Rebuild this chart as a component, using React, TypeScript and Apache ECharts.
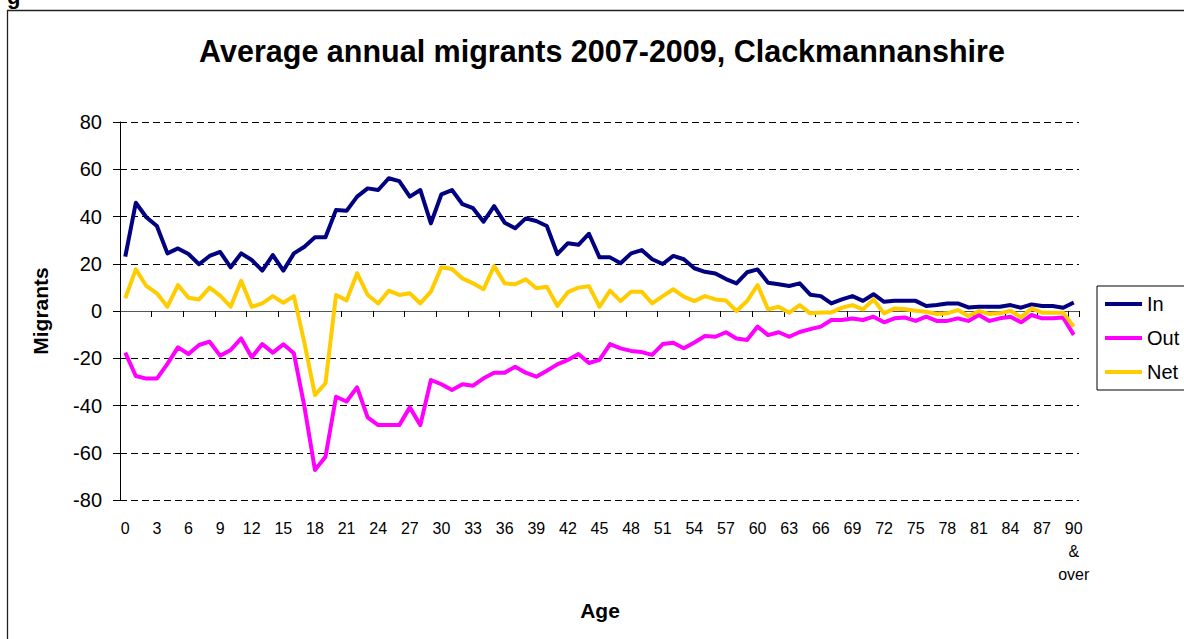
import React, { useEffect, useRef } from "react";
import * as echarts from "echarts";

const ages: string[] = [
  "0","1","2","3","4","5","6","7","8","9",
  "10","11","12","13","14","15","16","17","18","19",
  "20","21","22","23","24","25","26","27","28","29",
  "30","31","32","33","34","35","36","37","38","39",
  "40","41","42","43","44","45","46","47","48","49",
  "50","51","52","53","54","55","56","57","58","59",
  "60","61","62","63","64","65","66","67","68","69",
  "70","71","72","73","74","75","76","77","78","79",
  "80","81","82","83","84","85","86","87","88","89",
  "90 & over",
];

const inData: number[] = [
  23.0, 45.8, 39.7, 36.0, 24.4, 26.5, 24.1, 19.8, 23.3, 25.0,
  18.5, 24.4, 21.6, 17.1, 23.7, 17.1, 24.4, 27.2, 31.2, 31.2,
  42.8, 42.4, 48.4, 51.9, 51.2, 56.2, 55.0, 48.4, 51.2, 37.1,
  49.4, 51.2, 45.2, 43.5, 37.8, 44.4, 37.4, 35.0, 39.2, 38.1,
  36.0, 24.1, 28.7, 28.0, 32.7, 22.7, 22.7, 20.2, 24.4, 25.8,
  21.9, 19.9, 23.3, 21.9, 18.1, 16.6, 15.9, 13.5, 11.7, 16.4,
  17.6, 12.0, 11.3, 10.6, 11.7, 6.9, 6.3, 3.2, 4.9, 6.3,
  4.3, 7.1, 3.9, 4.3, 4.3, 4.3, 2.1, 2.5, 3.2, 3.2,
  1.5, 1.8, 1.8, 1.8, 2.5, 1.4, 2.8, 2.1, 2.1, 1.4,
  3.6,
];

const outData: number[] = [
  -17.6, -27.5, -28.6, -28.6, -22.4, -15.4, -18.2, -14.4, -13.0, -18.9,
  -16.5, -11.6, -19.6, -14.0, -17.6, -14.1, -17.9, -40.5, -67.3, -61.7,
  -36.3, -38.3, -32.3, -45.0, -48.3, -48.3, -48.3, -40.8, -48.3, -29.2,
  -31.0, -33.4, -31.0, -31.6, -28.5, -26.1, -26.1, -23.6, -26.1, -27.8,
  -25.3, -22.6, -20.7, -18.2, -22.0, -20.7, -14.0, -15.8, -16.9, -17.4,
  -18.6, -14.0, -13.4, -15.8, -13.3, -10.6, -10.9, -9.0, -11.6, -12.3,
  -6.6, -10.2, -9.0, -10.9, -8.9, -7.7, -6.6, -3.8, -3.8, -3.2,
  -3.8, -2.4, -4.8, -3.1, -2.8, -4.2, -2.4, -4.2, -4.2, -3.1,
  -4.2, -1.7, -4.2, -3.1, -2.4, -4.8, -1.7, -3.1, -3.1, -2.8,
  -10.1,
];

const netData: number[] = [
  5.4, 17.6, 10.6, 7.5, 1.8, 11.0, 5.6, 4.9, 9.9, 6.5,
  1.8, 12.8, 1.8, 3.2, 6.3, 3.5, 6.3, -13.5, -35.6, -30.6,
  6.8, 4.5, 16.0, 6.8, 3.2, 8.6, 6.8, 7.5, 3.2, 8.2,
  18.5, 17.8, 13.8, 11.7, 9.2, 19.0, 11.7, 11.3, 13.4, 9.6,
  10.3, 2.1, 8.0, 9.9, 10.5, 1.8, 8.6, 4.2, 8.2, 8.2,
  3.2, 6.3, 9.2, 6.1, 4.2, 6.3, 4.9, 4.4, 0.0, 4.2,
  11.0, 0.7, 1.8, -0.7, 2.5, -1.0, -0.6, -0.6, 1.4, 2.5,
  0.7, 4.9, -1.0, 1.1, 0.7, 0.1, -0.3, -1.3, -1.0, 0.4,
  -2.1, 0.0, -1.3, -1.0, 0.1, -2.7, 1.1, -0.7, -0.7, -0.7,
  -6.6,
];

const seriesNames = ["In", "Out", "Net"];
const seriesColors = ["#000080", "#FF00FF", "#FFCC00"];

const FONT = '"Liberation Sans", Arial, sans-serif';

export default function App() {
  const ref = useRef<HTMLDivElement>(null);

  useEffect(() => {
    if (!ref.current) return;
    const chart = echarts.init(ref.current, null, { renderer: "svg" });
    const datasets = [inData, outData, netData];
    chart.setOption({
      animation: false,
      backgroundColor: "#ffffff",
      textStyle: { fontFamily: FONT, color: "#000" },
      graphic: [
        {
          type: "text",
          left: 7,
          top: -15,
          style: { text: "g", font: `bold 22px ${FONT}`, fill: "#000" },
          silent: true,
        },
        {
          type: "rect",
          shape: { x: 7.5, y: 10.5, width: 1300, height: 800 },
          style: { fill: "none", stroke: "#222", lineWidth: 1.3 },
          silent: true,
          z: -1,
        },
        {
          type: "text",
          x: 602,
          y: 51,
          style: {
            text: "Average annual migrants 2007-2009, Clackmannanshire",
            font: `bold 30.5px ${FONT}`,
            fill: "#000",
            align: "center",
            verticalAlign: "middle",
          },
          silent: true,
        },
        {
          type: "text",
          x: 40,
          y: 311,
          rotation: Math.PI / 2,
          style: {
            text: "Migrants",
            font: `bold 21px ${FONT}`,
            fill: "#000",
            align: "center",
            verticalAlign: "middle",
          },
          silent: true,
        },
        {
          type: "text",
          x: 600,
          y: 610,
          style: {
            text: "Age",
            font: `bold 21px ${FONT}`,
            fill: "#000",
            align: "center",
            verticalAlign: "middle",
          },
          silent: true,
        },
      ],
      legend: {
        orient: "vertical",
        left: 1097,
        top: 286,
        padding: [8, 40, 8, 8],
        itemGap: 14,
        itemWidth: 37,
        itemHeight: 4,
        icon: "rect",
        borderColor: "#000",
        borderWidth: 1,
        backgroundColor: "#fff",
        textStyle: { fontSize: 20, fontFamily: FONT, color: "#000" },
        data: seriesNames,
      },
      grid: { left: 120, right: 105, top: 122, bottom: 139, containLabel: false },
      xAxis: [
        {
          type: "category",
          data: ages,
          boundaryGap: true,
          axisLine: { onZero: true, lineStyle: { color: "#555", width: 1 } },
          axisTick: { show: true, interval: 2, length: 6, lineStyle: { color: "#000" } },
          axisLabel: { show: false },
          splitLine: { show: false },
        },
        {
          type: "category",
          data: ages,
          boundaryGap: true,
          position: "bottom",
          axisLine: { show: false, onZero: false },
          axisTick: { show: false },
          axisLabel: {
            show: true,
            interval: 2,
            fontSize: 16,
            fontFamily: FONT,
            color: "#000",
            margin: 17,
            lineHeight: 23,
            verticalAlign: "top",
            formatter: (v: string) => v.split(" ").join("\n"),
          },
          splitLine: { show: false },
        },
      ],
      yAxis: {
        type: "value",
        min: -80,
        max: 80,
        interval: 20,
        axisLine: { show: true, lineStyle: { color: "#000", width: 1 } },
        axisTick: { show: true, length: 7, lineStyle: { color: "#000" } },
        axisLabel: { fontSize: 20, fontFamily: FONT, color: "#000", margin: 18 },
        splitLine: { show: true, lineStyle: { color: "#000", type: [7, 4], width: 1 } },
      },
      series: seriesNames.map((name, i) => ({
        name,
        type: "line",
        xAxisIndex: 0,
        data: datasets[i],
        symbol: "none",
        showSymbol: false,
        lineStyle: { color: seriesColors[i], width: 4, join: "round" },
        itemStyle: { color: seriesColors[i] },
        z: 2 + i,
      })),
    });
    return () => chart.dispose();
  }, []);

  return (
    <div
      ref={ref}
      style={{ position: "fixed", left: 0, top: 0, width: 1184, height: 639 }}
    />
  );
}
